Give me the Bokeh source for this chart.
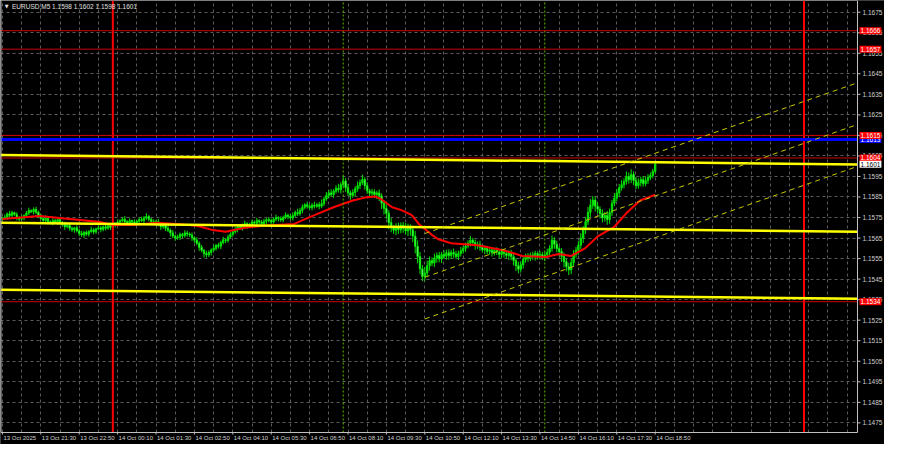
from bokeh.plotting import figure
from bokeh.models import FixedTicker, Label, ColumnDataSource, Range1d
from bokeh.embed import file_html
from bokeh.resources import INLINE
from bokeh.core.properties import value

# ---------------- data ----------------
closes = [
    1.15745, 1.15752, 1.15768, 1.15760, 1.15774, 1.15765, 1.15750, 1.15742, 1.15748, 1.15760, 1.15772, 1.15784, 1.15778, 1.15790, 1.15776, 1.15758,
    1.15745, 1.15735, 1.15748, 1.15730, 1.15722, 1.15735, 1.15728, 1.15740, 1.15725,
    1.15715, 1.15705, 1.15712, 1.15698, 1.15690, 1.15700, 1.15685, 1.15672, 1.15665, 1.15678, 1.15668, 1.15682, 1.15690, 1.15680, 1.15695, 1.15700,
    1.15692, 1.15705, 1.15698, 1.15710, 1.15702, 1.15712,
    1.15720, 1.15728, 1.15735, 1.15742, 1.15730, 1.15722, 1.15735, 1.15728, 1.15720, 1.15732, 1.15740, 1.15735, 1.15748, 1.15755,
    1.15742, 1.15730, 1.15722, 1.15730, 1.15715, 1.15705, 1.15712, 1.15698,
    1.15688, 1.15675, 1.15660, 1.15650, 1.15655, 1.15668, 1.15662, 1.15675, 1.15670, 1.15665, 1.15652, 1.15640,
    1.15625, 1.15605, 1.15590, 1.15575, 1.15568, 1.15580, 1.15592,
    1.15600, 1.15615, 1.15610, 1.15628, 1.15642, 1.15638, 1.15655, 1.15668, 1.15680,
    1.15692, 1.15705, 1.15698, 1.15712, 1.15720, 1.15708, 1.15715, 1.15728, 1.15722, 1.15735, 1.15728, 1.15720,
    1.15732, 1.15740, 1.15735, 1.15728, 1.15742, 1.15750, 1.15745, 1.15738, 1.15750, 1.15762, 1.15755, 1.15748,
    1.15760, 1.15775, 1.15768, 1.15785, 1.15800, 1.15812, 1.15805, 1.15798, 1.15810, 1.15805,
    1.15812, 1.15805, 1.15818, 1.15840, 1.15858, 1.15870, 1.15862, 1.15878, 1.15892, 1.15885,
    1.15910, 1.15928, 1.15895, 1.15870, 1.15858,
    1.15872, 1.15890, 1.15905, 1.15920, 1.15935,
    1.15905, 1.15880, 1.15868, 1.15875, 1.15862, 1.15870, 1.15855,
    1.15820, 1.15795, 1.15770,
    1.15725, 1.15700, 1.15688, 1.15705, 1.15690, 1.15712, 1.15698, 1.15685, 1.15702, 1.15690,
    1.15660, 1.15610, 1.15560, 1.15500, 1.15462, 1.15480,
    1.15515, 1.15540, 1.15528, 1.15552, 1.15565, 1.15548, 1.15570, 1.15562, 1.15578, 1.15565, 1.15580, 1.15572, 1.15560, 1.15575,
    1.15588, 1.15600, 1.15612, 1.15625, 1.15640, 1.15628, 1.15612, 1.15620, 1.15605, 1.15592,
    1.15600, 1.15585, 1.15592, 1.15578, 1.15590, 1.15582, 1.15570, 1.15585, 1.15575, 1.15565, 1.15578, 1.15560,
    1.15540, 1.15515, 1.15498, 1.15520, 1.15545, 1.15560,
    1.15552, 1.15568, 1.15560, 1.15575, 1.15562, 1.15570, 1.15558,
    1.15568, 1.15580, 1.15600, 1.15640, 1.15620, 1.15598, 1.15585,
    1.15560, 1.15535, 1.15510, 1.15495,
    1.15530, 1.15570, 1.15590, 1.15615,
    1.15650, 1.15690, 1.15730, 1.15775,
    1.15810, 1.15835, 1.15805, 1.15790,
    1.15770, 1.15748, 1.15760, 1.15740, 1.15775,
    1.15820, 1.15845, 1.15870, 1.15895, 1.15910,
    1.15925, 1.15950, 1.15935, 1.15960, 1.15930, 1.15905,
    1.15920, 1.15935, 1.15915, 1.15930, 1.15945, 1.15955, 1.15975,
    1.16010,
]

# wick lengths above / below each candle body, in points (0.00001)
upper_wick = [
    8, 12, 6, 15, 9, 4, 11, 7, 13, 5, 10, 14, 6, 9, 12, 7,
    10, 5, 13, 8, 6, 12, 9, 4, 11, 7, 14, 6, 10, 8, 5, 12,
    9, 13, 6, 10, 7, 15, 8, 5, 11, 9, 6, 12, 8, 14, 10, 7,
    12, 6, 9, 15, 8, 11, 5, 13, 7, 10, 14, 9, 16, 8, 6, 11,
    9, 13, 7, 10, 5, 12, 8, 14, 6, 11, 9, 7, 13, 10, 8, 12,
    6, 14, 9, 11, 7, 13, 10, 8, 15, 6, 12, 9, 14, 7, 11, 10,
    8, 13, 6, 12, 9, 15, 7, 10, 11, 8, 14, 6, 9, 12, 7, 13,
    10, 8, 14, 6, 11, 9, 13, 7, 12, 15, 9, 18, 11, 14, 8, 16,
    12, 10, 17, 9, 14, 20, 11, 16, 13, 18, 10, 15, 22, 12, 25, 14,
    18, 11, 16, 13, 20, 15, 24, 12, 17, 10, 15, 13, 11, 16, 12, 14,
    18, 15, 22, 12, 17, 20, 14, 16, 25, 18, 15, 20, 24, 28, 22, 18,
    30, 25, 20, 16, 22, 14, 18, 12, 20, 15, 17, 13, 19, 16, 14, 18,
    12, 16, 14, 20, 11, 15, 13, 17, 10, 14, 12, 16, 9, 13, 15, 11,
    14, 10, 16, 12, 15, 18, 13, 20, 16, 12, 14, 17, 11, 15, 13, 10,
    16, 12, 14, 18, 15, 22, 14, 17, 12, 16, 19, 14, 20, 18, 22, 17,
    20, 24, 18, 22, 26, 30, 20, 16, 18, 14, 20, 17, 22, 18, 16, 24,
    20, 18, 22, 16, 24, 19, 25, 15, 18, 21, 14, 17, 20, 16, 15, 12,
    8,
]
lower_wick = [
    10, 6, 13, 8, 11, 7, 14, 9, 5, 12, 8, 10, 6, 13, 9, 11,
    7, 12, 9, 14, 6, 10, 8, 13, 11, 9, 15, 7, 12, 10, 14, 8,
    13, 9, 15, 7, 11, 8, 12, 10, 6, 14, 9, 11, 7, 13, 8, 10,
    9, 14, 7, 11, 13, 8, 15, 6, 10, 12, 7, 14, 9, 11, 13, 8,
    12, 8, 16, 10, 14, 9, 18, 11, 13, 8, 15, 12, 10, 14, 9, 16,
    14, 11, 18, 9, 20, 13, 10, 15, 8, 12, 11, 14, 9, 13, 10, 8,
    11, 9, 14, 7, 12, 10, 13, 8, 11, 15, 9, 12, 7, 10, 13, 9,
    12, 8, 10, 14, 9, 11, 7, 13, 10, 12, 8, 11, 9, 14, 10, 12,
    9, 13, 11, 8, 15, 10, 12, 9, 14, 11, 16, 10, 13, 18, 12, 20,
    15, 22, 12, 18, 14, 16, 11, 19, 15, 20, 13, 17, 22, 25, 28, 30,
    26, 32, 22, 18, 24, 20, 16, 22, 18, 25, 28, 30, 35, 32, 26, 22,
    20, 18, 24, 15, 19, 22, 16, 20, 14, 18, 21, 16, 19, 13, 17, 15,
    14, 18, 12, 16, 13, 19, 15, 17, 12, 20, 14, 16, 18, 13, 15, 19,
    16, 20, 14, 22, 18, 24, 26, 20, 16, 19, 15, 18, 14, 17, 20, 16,
    18, 15, 20, 14, 19, 16, 22, 18, 24, 26, 28, 22, 25, 20, 18, 16,
    22, 18, 24, 20, 16, 22, 18, 26, 20, 24, 22, 18, 25, 20, 17, 15,
    16, 19, 14, 18, 15, 20, 17, 22, 16, 14, 18, 15, 13, 16, 12, 14,
    10,
]

ma_bars = [0, 15.5, 28, 40, 46, 54, 64.5, 72.6, 81, 87, 93, 101, 109, 121.6, 130, 138, 146, 151,
           155.5, 158, 162.4, 166.5, 170.6, 173.5, 178.8, 181.6, 187, 198, 208.6, 216.7, 226.5,
           231.8, 237, 242.9, 248, 255, 260.4, 265.7, 272]
ma_values = [1.15743, 1.15757, 1.15743, 1.15729, 1.15714, 1.15714, 1.15724, 1.15719, 1.15710, 1.15691,
             1.15681, 1.15700, 1.15710, 1.15719, 1.15762, 1.15800, 1.15833, 1.15847, 1.15852, 1.15838,
             1.15800, 1.15785, 1.15762, 1.15719, 1.15667, 1.15644, 1.15625, 1.15615, 1.15591, 1.15563,
             1.15558, 1.15572, 1.15563, 1.15601, 1.15658, 1.15705, 1.15776, 1.15833, 1.15861]

time_labels = ["13 Oct 2025", "13 Oct 21:30", "13 Oct 22:50", "14 Oct 00:10", "14 Oct 01:30",
               "14 Oct 02:50", "14 Oct 04:10", "14 Oct 05:30", "14 Oct 06:50", "14 Oct 08:10",
               "14 Oct 09:30", "14 Oct 10:50", "14 Oct 12:10", "14 Oct 13:30", "14 Oct 14:50",
               "14 Oct 16:10", "14 Oct 17:30", "14 Oct 18:50"]
label_bars = [0, 16, 32, 48, 64, 80, 96, 112, 128, 144, 160, 176, 192, 208, 224, 240, 256, 272]
grid_bars = [8, 24, 40, 56, 72, 88, 104, 120, 136, 152, 168, 184, 200, 216, 232, 248, 264, 280,
             288, 296, 304, 312, 320, 328, 336, 344, 352]

price_ticks = [1.1475, 1.1485, 1.1495, 1.1505, 1.1515, 1.1525, 1.1535, 1.1545, 1.1555, 1.1565,
               1.1575, 1.1585, 1.1595, 1.1605, 1.1615, 1.1625, 1.1635, 1.1645, 1.1655, 1.1665, 1.1675]

red_levels = [1.1666, 1.1657, 1.1615, 1.1604, 1.1534]
blue_level = 1.1613
last_price = 1.1601

yellow_start = [1.16055, 1.15724, 1.15398]
yellow_end = [1.16008, 1.15681, 1.15355]

channel_bars = [176, 356]
channel_start = [1.15672, 1.15459, 1.15256]
channel_end = [1.16405, 1.16202, 1.15998]

red_vlines = [46, 334]
green_vlines = [142, 226]

title_text = "EURUSD,M5  1.1598 1.1602 1.1598 1.1601"

# ---------------- geometry ----------------
W, H = 884, 444
chart_w = 857             # px: chart part, left of the price scale
chart_h = 432             # px: chart part, above the time scale
x_start, x_border = -0.8, 356.3
x_stop = x_start + (x_border - x_start) * W / chart_w
y_bottom, y_hi = 1.14703, 1.16807
y_lo = y_hi - (y_hi - y_bottom) * H / chart_h

p = figure(width=W, height=H, title=None,
           x_range=Range1d(x_start, x_stop), y_range=Range1d(y_lo, y_hi),
           output_backend="svg", toolbar_location=None,
           background_fill_color="black", border_fill_color="black",
           min_border_left=0, min_border_top=0, min_border_right=0, min_border_bottom=0,
           outline_line_color=None)
p.xaxis.visible = False
p.yaxis.visible = False

FONT = "Liberation Sans"
grid_col = "#5a5a5a"
p.xgrid.ticker = FixedTicker(ticks=label_bars, minor_ticks=grid_bars)
p.ygrid.ticker = FixedTicker(ticks=price_ticks)
for g in (p.xgrid, p.ygrid):
    g.grid_line_color = grid_col
    g.grid_line_dash = "3 3"
    g.grid_line_width = 1
p.xgrid.minor_grid_line_color = grid_col
p.xgrid.minor_grid_line_dash = "3 3"

# ---------------- candles ----------------
bars = list(range(len(closes)))
opens = [closes[0]] + closes[:-1]
tops = [max(o, c) for o, c in zip(opens, closes)]
bots = [min(o, c) for o, c in zip(opens, closes)]
highs = [t + u * 1e-5 for t, u in zip(tops, upper_wick)]
lows = [b - d * 1e-5 for b, d in zip(bots, lower_wick)]
fills = ["#00c800" if c >= o else "#c8ffc8" for o, c in zip(opens, closes)]
src = ColumnDataSource(dict(x=bars, top=tops, bottom=bots, high=highs, low=lows, fill=fills))
p.segment(x0="x", y0="low", x1="x", y1="high", line_color="#00e600", line_width=1, source=src)
p.vbar(x="x", top="top", bottom="bottom", width=0.55, fill_color="fill",
       line_color="#00e600", line_width=1, source=src)

# moving average
p.line(ma_bars, ma_values, line_color="#ff0000", line_width=2)

# vertical separators
p.segment(x0=red_vlines, y0=[y_bottom] * 2, x1=red_vlines, y1=[y_hi] * 2,
          line_color="#ff0000", line_width=2)
p.segment(x0=green_vlines, y0=[y_bottom] * 2, x1=green_vlines, y1=[y_hi] * 2,
          line_color="#5cb800", line_width=1, line_dash="2 2")

# horizontal levels
p.segment(x0=[x_start] * len(red_levels), y0=red_levels, x1=[x_border] * len(red_levels),
          y1=red_levels, line_color="#d00000", line_width=1)
p.segment(x0=[x_start], y0=[blue_level], x1=[x_border], y1=[blue_level],
          line_color="#0000ff", line_width=3)

# yellow trend lines
p.multi_line(xs=[[x_start, x_border]] * len(yellow_start),
             ys=[[a, b] for a, b in zip(yellow_start, yellow_end)],
             line_color="#ffff00", line_width=2.5)

# dashed channel
p.multi_line(xs=[channel_bars] * len(channel_start),
             ys=[[a, b] for a, b in zip(channel_start, channel_end)],
             line_color="#c8c800", line_width=1, line_dash="5 4")

# ---------------- scale areas (right and bottom) ----------------
p.quad(left=[x_border, x_start - 1], right=[x_stop + 1, x_stop + 1],
       bottom=[y_lo - 1e-3, y_lo - 1e-3], top=[y_hi + 1e-3, y_bottom],
       fill_color="black", line_color=None)
# chart frame
p.segment(x0=[x_border, x_start + 0.2, x_start + 0.2], y0=[y_bottom, y_bottom, y_bottom],
          x1=[x_border, x_border, x_start + 0.2], y1=[y_hi, y_bottom, y_hi],
          line_color="#c0c0c0", line_width=1)
# price ticks and labels
p.ray(x=[x_border] * len(price_ticks), y=price_ticks, length=3, length_units="screen",
      angle=0, line_color="#c0c0c0", line_width=1)
p.text(x=[x_border] * len(price_ticks), y=price_ticks,
       text=[f"{v:.4f}" for v in price_ticks], x_offset=5,
       text_baseline="middle", text_align="left", text_color="#d0d0d0",
       text_font=value(FONT), text_font_size=value("6.5px"))
# time ticks and labels
p.ray(x=label_bars, y=[y_bottom] * len(label_bars), length=2, length_units="screen",
      angle=-1.5708, line_color="#c0c0c0", line_width=1)
p.text(x=label_bars, y=[y_bottom] * len(label_bars), text=time_labels,
       x_offset=1, y_offset=2, text_baseline="top", text_align="left",
       text_color="#d0d0d0", text_font=value(FONT), text_font_size=value("6px"))


def box(y, text, bg, fg):
    p.add_layout(Label(x=x_border, y=y, x_offset=2, text=text, text_color=fg,
                       text_font=FONT, text_font_size="6.5px", text_baseline="middle",
                       text_align="left", background_fill_color=bg, padding=(1, 1)))


box(blue_level, f"{blue_level:.4f}", "#0000ff", "white")
for lv in red_levels:
    box(lv, f"{lv:.4f}", "#ff0000", "white")
box(last_price, f"{last_price:.4f}", "white", "black")

# ---------------- title ----------------
p.add_layout(Label(x=1.0, y=y_hi - 0.00028, text="\u25bc", text_color="#e0e0e0",
                   text_font="DejaVu Sans", text_font_size="5px", text_baseline="middle"))
p.add_layout(Label(x=4.0, y=y_hi - 0.00028, text=title_text, text_color="#e0e0e0",
                   text_font=FONT, text_font_size="6.5px", text_baseline="middle"))

open("out.html", "w").write(file_html(p, INLINE))
